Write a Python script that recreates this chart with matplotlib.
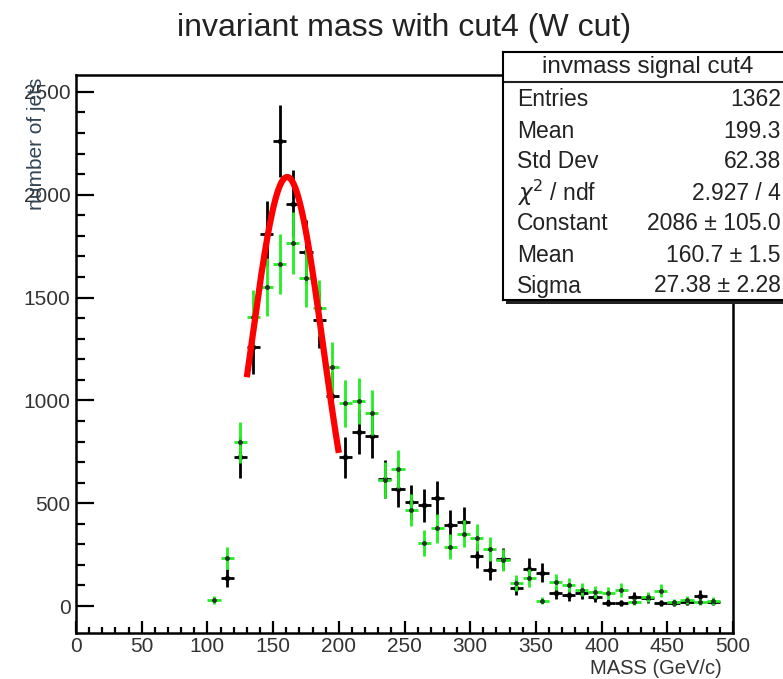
import numpy as np
import matplotlib.pyplot as plt
from matplotlib.patches import Rectangle

plt.rcParams['font.family'] = ['Liberation Sans', 'DejaVu Sans']

# histogram: 10 GeV bins, centres from 105 to 485
mass = np.arange(105, 490, 10)

# signal (black)
signal = [np.nan, 136, 723, 1260, 1811, 2262, 1956, 1723, 1393, 1019,
          723, 845, 828, 617, 570, 505, 490, 524, 393, 408,
          245, 175, 228, 90, 182, 162, 65, 53, 65, 42,
          17, 15, 44, 40, 15, 15, 20, 51, 22]
signal_err = [0, 43, 99, 130, 156, 175, 162, 153, 137, 117,
              99, 107, 106, 91, 88, 83, 81, 84, 73, 74,
              58, 49, 55, 35, 50, 47, 30, 27, 30, 24,
              15, 14, 24, 23, 14, 14, 16, 26, 17]

# second sample (green)
other = [29, 233, 796, 1403, 1551, 1665, 1765, 1597, 1449, 1160,
         985, 998, 940, 612, 667, 466, 306, 379, 288, 352,
         332, 277, 225, 112, 136, 26, 117, 102, 80, 68,
         63, 78, 19, 44, 75, 19, 29, 20, 24]
other_err = [19, 55, 101, 134, 141, 146, 150, 143, 136, 122,
             112, 113, 110, 89, 92, 77, 63, 70, 61, 67,
             65, 60, 54, 38, 42, 18, 39, 36, 32, 30,
             28, 32, 16, 24, 31, 16, 19, 16, 18]

# gaussian fit
fit_const, fit_mean, fit_sigma = 2086, 160.7, 27.38
fit_lo, fit_hi = 130, 200

stat_names = ['Entries', 'Mean', 'Std Dev', r'$\chi^{2}$ / ndf',
              'Constant', 'Mean', 'Sigma']
stat_values = ['1362', '199.3', '62.38', '2.927 / 4',
               '2086 \u00b1 105.0', '160.7 \u00b1 1.5', '27.38 \u00b1 2.28']

W, H = 783, 679
fig = plt.figure(figsize=(W / 100, H / 100), dpi=100)


def box(x0, y0, x1, y1):
    return [x0 / W, 1 - y1 / H, (x1 - x0) / W, (y1 - y0) / H]


ax = fig.add_axes(box(76, 75, 733, 633))

ax.errorbar(mass, signal, yerr=signal_err, xerr=5, fmt='o', ms=3,
            color='black', elinewidth=2, capsize=0, zorder=2)
ax.errorbar(mass, other, yerr=other_err, xerr=5, fmt='none',
            ecolor='#22ee22', elinewidth=2, capsize=0, zorder=3)
ax.plot(mass, other, 'o', ms=2.5, color='#223322', zorder=4)

xf = np.linspace(fit_lo, fit_hi, 200)
yf = fit_const * np.exp(-0.5 * ((xf - fit_mean) / fit_sigma) ** 2)
ax.plot(xf, yf, color='#ff0000', lw=4.5, zorder=5, solid_capstyle='butt')

ax.set_xlim(0, 500)
ax.set_ylim(-131, 2582)
ax.set_xticks(np.arange(0, 501, 50))
ax.set_xticks(np.arange(0, 501, 10), minor=True)
ax.set_yticks(np.arange(0, 2501, 500))
ax.set_yticks(np.arange(0, 2501, 100), minor=True)
ax.tick_params(which='both', direction='in', top=False, right=False,
               labelsize=15, labelcolor='#333333', width=1.6)
ax.tick_params(axis='x', which='major', length=8.6, pad=3)
ax.tick_params(axis='x', which='minor', length=4.3)
ax.tick_params(axis='y', which='major', length=13, pad=4)
ax.tick_params(axis='y', which='minor', length=6.5)
for s in ax.spines.values():
    s.set_linewidth(1.8)

fig.text(404 / W, 1 - 28 / H, 'invariant mass with cut4 (W cut)',
         ha='center', va='center', fontsize=23, color='#222222')
fig.text(722 / W, 1 - 668 / H, 'MASS (GeV/c)', ha='right', va='center',
         fontsize=14.5, color='#333333')
fig.text(37 / W, 1 - 78 / H, 'number of jets', ha='center', va='top',
         rotation=90, fontsize=15, color='#334455')

# stats box
shadow = Rectangle(((503 + 3) / W, 1 - (300 + 4) / H), (800 - 503) / W,
                   (300 - 52) / H, transform=fig.transFigure,
                   facecolor='#222222', edgecolor='none', zorder=9)
fig.patches.append(shadow)
sb = fig.add_axes(box(503, 52, 800, 300))
sb.set_zorder(10)
sb.set_xlim(503, 800)
sb.set_ylim(300, 52)
sb.set_xticks([])
sb.set_yticks([])
for s in sb.spines.values():
    s.set_linewidth(1.5)
sb.axhline(82, color='#222222', lw=1.5)
sb.text(648, 67, 'invmass signal cut4', ha='center', va='center',
        fontsize=17.5, color='#222222')
for i, (name, val) in enumerate(zip(stat_names, stat_values)):
    yy = 100 + i * 31
    sb.text(517, yy, name, ha='left', va='center', fontsize=16.5,
            color='#222222')
    sb.text(781, yy, val, ha='right', va='center', fontsize=16.5,
            color='#222222')

fig.savefig('out.png', dpi=100)
